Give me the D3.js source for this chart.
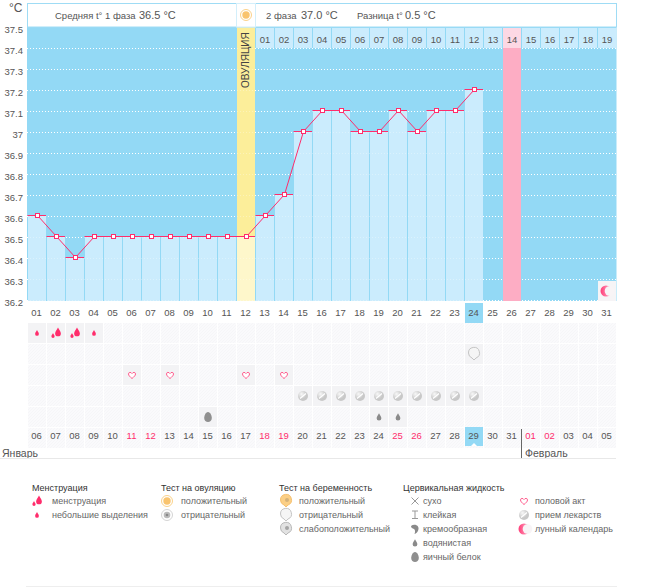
<!DOCTYPE html>
<html>
<head>
<meta charset="utf-8">
<script src="https://cdn.jsdelivr.net/npm/d3@7"></script>
<style>
  html, body { margin: 0; padding: 0; background: #fff; }
  svg { display: block; }
  text { font-family: "Liberation Sans", Arial, sans-serif; font-size: 9px; fill: #555; }
  .axis path, .axis line { display: none; }
  .axis text { font-size: 9.5px; fill: #555; }
  .lg-title { fill: #333; }
</style>
</head>
<body>
<svg id="chart" width="655" height="587"></svg>
<script>
// chart values
const cycleDays = ["01","02","03","04","05","06","07","08","09","10","11","12","13","14","15","16","17","18","19","20","21","22","23","24","25","26","27","28","29","30","31"];
const phaseDays = ["01","02","03","04","05","06","07","08","09","10","11","12","13","14","15","16","17","18","19"];
const calendarDays = ["06","07","08","09","10","11","12","13","14","15","16","17","18","19","20","21","22","23","24","25","26","27","28","29","30","31","01","02","03","04","05"];
const weekendSlots = [5,6,12,13,19,20,26,27];
const temps = [36.6,36.5,36.4,36.5,36.5,36.5,36.5,36.5,36.5,36.5,36.5,36.5,36.6,36.7,37.0,37.1,37.1,37.0,37.0,37.1,37.0,37.1,37.1,37.2];
const tempTicks = [37.5,37.4,37.3,37.2,37.1,37,36.9,36.8,36.7,36.6,36.5,36.4,36.3,36.2];
const ovulationDay = "12";
const pinkDay = "26";
const todayDay = "24";
const moonDay = "31";
const rows = ["mens","test","sex","pill","fluid"];
const menstruation = [["01","small"],["02","big"],["03","big"],["04","small"]];
const pregTests = [["24","pregNeg"]];
const sexDays = ["06","08","12","14"];
const pillDays = ["15","16","17","18","19","20","21","22","23","24"];
const fluidDays = [["10","egg"],["19","water"],["20","water"]];

const svg = d3.select("#chart");
const x = d3.scaleBand().domain(cycleDays).range([27, 616]);
const y = d3.scaleLinear().domain([36.2, 37.5]).range([300, 27]);
const rowY = d3.scaleBand().domain(rows).range([323, 428]);
const cx = d => x(d) + x.bandwidth() / 2 + 0.5;
const yi = t => Math.round(y(t));

const defs = svg.append("defs");
const tex = defs.append("pattern").attr("id", "tex").attr("width", 3).attr("height", 3).attr("patternUnits", "userSpaceOnUse");
tex.append("rect").attr("width", 3).attr("height", 3).attr("fill", "#fafafc");
tex.append("path").attr("d", "M0,3L3,0").attr("stroke", "#f5f5f8").attr("stroke-width", 0.8);
const pg = defs.append("radialGradient").attr("id", "pillG").attr("cx", "35%").attr("cy", "30%");
pg.append("stop").attr("offset", "0%").attr("stop-color", "#f8f8f8");
pg.append("stop").attr("offset", "100%").attr("stop-color", "#c8c8c8");
const mg = defs.append("linearGradient").attr("id", "moonG");
mg.append("stop").attr("offset", "0%").attr("stop-color", "#ff3d78");
mg.append("stop").attr("offset", "100%").attr("stop-color", "#ffb3cb");

// background
svg.append("rect").attr("x", 27).attr("y", 27).attr("width", 589.5).attr("height", 274).attr("fill", "#93d9f5");

// grid
svg.append("g").selectAll("line").data(tempTicks.slice(1)).join("line")
  .attr("x1", 27).attr("x2", 616)
  .attr("y1", d => yi(d) + 0.5).attr("y2", d => yi(d) + 0.5)
  .attr("stroke", "#fff").attr("stroke-dasharray", "1,2");

// ovulation and pink columns
svg.append("rect").attr("x", x(ovulationDay) + 1).attr("y", 27).attr("width", 18).attr("height", yi(36.5) - 27).attr("fill", "#fcee9a");
svg.append("rect").attr("x", x(ovulationDay) + 1).attr("y", yi(36.5)).attr("width", 18).attr("height", 301 - yi(36.5)).attr("fill", "#fef7cb");
svg.append("rect").attr("x", x(pinkDay) + 1).attr("y", 48).attr("width", 18).attr("height", 253).attr("fill", "#fdadc4");

// temperature bars
const bars = cycleDays.slice(0, temps.length).map((d, i) => ({ d, t: temps[i] }));
svg.append("g").selectAll("rect").data(bars.filter(b => b.d !== ovulationDay)).join("rect")
  .attr("x", b => x(b.d) + 1).attr("width", 18)
  .attr("y", b => yi(b.t)).attr("height", b => 301 - yi(b.t))
  .attr("fill", "#cbecfd");
svg.append("g").selectAll("line").data(bars.slice(1).filter(b => b.d !== ovulationDay)).join("line")
  .attr("x1", b => x(b.d) + 0.5).attr("x2", b => x(b.d) + 0.5)
  .attr("y1", b => yi(b.t)).attr("y2", 301)
  .attr("stroke", "#93d9f5");
// faint grid over the bars
svg.append("g").selectAll("line").data(tempTicks.slice(1)).join("line")
  .attr("x1", 27).attr("x2", x(todayDay) + 19)
  .attr("y1", d => yi(d) + 0.5).attr("y2", d => yi(d) + 0.5)
  .attr("stroke", "#fff").attr("stroke-opacity", 0.3).attr("stroke-dasharray", "1,2");

// header
svg.append("rect").attr("x", 27.5).attr("y", 3.5).attr("width", 589).attr("height", 23.5).attr("fill", "#fff").attr("stroke", "#9fdcf5");
svg.append("rect").attr("x", 236.5).attr("y", 3.5).attr("width", 19).attr("height", 23.5).attr("fill", "#fff").attr("stroke", "#d3effb");
const headText = (tx, str, size) => svg.append("text").attr("x", tx).attr("y", 19).style("font-size", size).text(str);
headText(55, "Средняя t° 1 фаза", "9.5px");
headText(139, "36.5 °C", "11px");
headText(266, "2 фаза", "9.5px");
headText(301, "37.0 °C", "11px");
headText(357, "Разница t°", "9.5px");
headText(405, "0.5 °C", "11px");

// phase day row
const phaseSlots = cycleDays.slice(12);
svg.append("g").selectAll("rect").data(phaseSlots).join("rect")
  .attr("x", d => x(d) + 1).attr("y", 28).attr("width", 18).attr("height", 20)
  .attr("fill", d => d === pinkDay ? "#fdd8e4" : "#cbecfd");
svg.append("g").selectAll("text").data(phaseSlots).join("text")
  .attr("x", cx).attr("y", 43).attr("text-anchor", "middle").style("font-size", "9.5px")
  .text((d, i) => phaseDays[i]);

svg.append("text").attr("transform", `translate(${cx(ovulationDay) + 3},88) rotate(-90)`)
  .style("font-size", "10px").style("fill", "#444").text("ОВУЛЯЦИЯ");

// y axis
svg.append("g").attr("class", "axis").attr("transform", "translate(23,2.5)")
  .call(d3.axisLeft(y).tickValues(tempTicks).tickSize(0).tickPadding(0).tickFormat(d => String(d)));
svg.append("text").attr("x", 9).attr("y", 12).style("font-size", "12px").text("°C");

// highlighted dates
svg.append("rect").attr("x", x(todayDay) + 1).attr("y", 303).attr("width", 18).attr("height", 20).attr("fill", "#93d9f5");

// cycle day axis
svg.append("g").attr("class", "axis").attr("transform", "translate(0,303)")
  .call(d3.axisBottom(x).tickSize(0).tickPadding(6));

// icon rows
const cells = svg.append("g");
rows.concat(["dates"]).forEach((r, ri) => {
  cells.selectAll(null).data(cycleDays).join("rect")
    .attr("x", d => x(d) + 1).attr("y", 323 + ri * 21).attr("width", 18).attr("height", 20)
    .attr("fill", "url(#tex)");
});
const activeCell = (r, d) => svg.append("rect")
  .attr("x", x(d) + 1).attr("y", rowY(r)).attr("width", 18).attr("height", 20).attr("fill", "#f3f3f5");

// icon shapes
const DROP = "M0,-4C0.8,-2 2.5,-0.8 2.5,1.2A2.5,2.5 0 1 1 -2.5,1.2C-2.5,-0.8 -0.8,-2 0,-4Z";
const HEART = "M0,3.5C-2,1.8 -3.5,0.6 -3.5,-1.1C-3.5,-2.9 -1,-3.2 0,-1.4C1,-3.2 3.5,-2.9 3.5,-1.1C3.5,0.6 2,1.8 0,3.5Z";
const PREG = "M-5.5,-1A5.5,5.5 0 1 1 2,4L0,6L-2,4A5.5,5.5 0 0 1 -5.5,-1Z";
const icons = {
  small: g => g.append("path").attr("d", DROP).attr("fill", "#ff2d6c").attr("transform", "scale(.75)"),
  big: g => {
    g.append("path").attr("d", DROP).attr("fill", "#ff2d6c").attr("transform", "translate(2,-1) scale(1.15)");
    g.append("path").attr("d", DROP).attr("fill", "#ff2d6c").attr("transform", "translate(-3,2.5) scale(.65)");
  },
  heart: g => g.append("path").attr("d", HEART).attr("fill", "#fff").attr("stroke", "#ff5c8d"),
  pill: g => {
    g.append("circle").attr("r", 5).attr("fill", "url(#pillG)");
    g.append("path").attr("d", "M-3,2.5L3,-2.5").attr("stroke", "#fff").attr("stroke-width", 1.2);
  },
  egg: g => g.append("path").attr("d", "M0,-5C2.5,-5 3.8,-1 3.8,1C3.8,3.5 2,5 0,5C-2,5 -3.8,3.5 -3.8,1C-3.8,-1 -2.5,-5 0,-5Z").attr("fill", "#8f8f8f"),
  water: g => g.append("path").attr("d", DROP).attr("fill", "#8a8a8a").attr("transform", "scale(.95)"),
  cross: g => g.append("path").attr("d", "M-3.5,-3.5L3.5,3.5M3.5,-3.5L-3.5,3.5").attr("stroke", "#999").attr("fill", "none"),
  sticky: g => g.append("path").attr("d", "M-3,-4H3M0,-4V3.5M-3,3.5H3").attr("stroke", "#999").attr("fill", "none"),
  cream: g => g.append("path").attr("d", "M-4,-3C-1,-5.5 4,-4 3.5,0C3.2,3 1,4.5 -0.5,5C0.5,2.5 0,0.5 -1,0C-2.5,-0.5 -4,-1 -4,-3Z").attr("fill", "#8a8a8a"),
  moon: g => {
    g.append("circle").attr("r", 5.5).attr("fill", "url(#moonG)");
    g.append("circle").attr("cx", 3.5).attr("r", 4.8).attr("fill", "#f8f4f6");
  },
  ovuPos: g => {
    g.append("circle").attr("r", 5.5).attr("fill", "#fff").attr("stroke", "#fbd28a");
    g.append("circle").attr("r", 3.7).attr("fill", "#f9c46e");
  },
  ovuNeg: g => {
    g.append("circle").attr("r", 5.5).attr("fill", "#fff").attr("stroke", "#d5d5d5");
    g.append("circle").attr("r", 3.3).attr("fill", "#bbb");
    g.append("circle").attr("r", 1.3).attr("fill", "#888");
  },
  pregPos: g => {
    g.append("path").attr("d", PREG).attr("fill", "#fbcf85").attr("stroke", "#f5c070");
    g.append("circle").attr("cx", 1).attr("cy", -1).attr("r", 2).attr("fill", "#d4b27a");
  },
  pregNeg: g => g.append("path").attr("d", PREG).attr("fill", "#f5f5f5").attr("stroke", "#c4c4c4"),
  pregWeak: g => {
    g.append("path").attr("d", PREG).attr("fill", "#e2e2e2").attr("stroke", "#b8b8b8");
    g.append("circle").attr("cx", 1).attr("cy", -1).attr("r", 2).attr("fill", "#a5a5a5");
  }
};
const putIcon = (name, ix, iy) => icons[name](svg.append("g").attr("transform", `translate(${ix},${iy})`));
const rowMid = r => rowY(r) + 10;

menstruation.forEach(([d, k]) => { activeCell("mens", d); putIcon(k, cx(d), rowMid("mens")); });
pregTests.forEach(([d, k]) => { activeCell("test", d); putIcon(k, cx(d), rowMid("test")); });
sexDays.forEach(d => { activeCell("sex", d); putIcon("heart", cx(d), rowMid("sex")); });
pillDays.forEach(d => { activeCell("pill", d); putIcon("pill", cx(d), rowMid("pill")); });
fluidDays.forEach(([d, k]) => { activeCell("fluid", d); putIcon(k, cx(d), rowMid("fluid")); });

// moon cell
svg.append("rect").attr("x", x(moonDay) + 1).attr("y", 281).attr("width", 18).attr("height", 20).attr("fill", "#f6f4f6");
putIcon("moon", cx(moonDay) - 1, 291);

// calendar row
svg.append("rect").attr("x", x(todayDay) + 1).attr("y", 427).attr("width", 18).attr("height", 19).attr("fill", "#93d9f5");
svg.append("path").attr("d", d3.line()([[cx(todayDay) - 3, 446], [cx(todayDay), 443], [cx(todayDay) + 3, 446]])).attr("fill", "#fff");
const calX = d3.scaleBand().domain(d3.range(calendarDays.length)).range([27, 616]);
const calAxis = svg.append("g").attr("class", "axis").attr("transform", "translate(0,427)")
  .call(d3.axisBottom(calX).tickSize(0).tickPadding(5).tickFormat(i => calendarDays[i]));
calAxis.selectAll("text").style("fill", i => weekendSlots.includes(i) ? "#ff2d6c" : "#555");

// months
svg.append("text").attr("x", 2).attr("y", 457).style("font-size", "10.5px").text("Январь");
svg.append("text").attr("x", 525).attr("y", 457).style("font-size", "10.5px").text("Февраль");
svg.append("line").attr("x1", 0).attr("x2", 616).attr("y1", 458.5).attr("y2", 458.5).attr("stroke", "#e8e8e8");
svg.append("line").attr("x1", calX(26) + 0.5).attr("x2", calX(26) + 0.5).attr("y1", 429).attr("y2", 458).attr("stroke", "#666");

// legend
const legendTitles = [["Менструация", 32], ["Тест на овуляцию", 161], ["Тест на беременность", 279], ["Цервикальная жидкость", 403]];
const legendItems = [
  [[37, 52, "big", "менструация"], [37, 52, "small", "небольшие выделения"]],
  [[167, 181, "ovuPos", "положительный"], [167, 181, "ovuNeg", "отрицательный"]],
  [[286, 299, "pregPos", "положительный"], [286, 299, "pregNeg", "отрицательный"], [286, 299, "pregWeak", "слабоположительный"]],
  [[415, 423, "cross", "сухо"], [415, 423, "sticky", "клейкая"], [415, 423, "cream", "кремообразная"], [415, 423, "water", "водянистая"], [415, 423, "egg", "яичный белок"]],
  [[524, 535, "heart", "половой акт"], [524, 535, "pill", "прием лекарств"], [524, 535, "moon", "лунный календарь"]]
];
svg.append("g").selectAll("text").data(legendTitles).join("text")
  .attr("class", "lg-title").attr("x", d => d[1]).attr("y", 490.5).text(d => d[0]);
legendItems.forEach(col => col.forEach((it, i) => {
  putIcon(it[2], it[0], 501 + i * 14);
  svg.append("text").attr("x", it[1]).attr("y", 504 + i * 14).style("fill", "#666").text(it[3]);
}));
svg.append("line").attr("x1", 26).attr("x2", 617).attr("y1", 586.5).attr("y2", 586.5).attr("stroke", "#eee");

// temperature line
const lineGen = d3.line().x(b => cx(b.d) + 0.5).y(b => yi(b.t) - 0.5);
svg.append("g").selectAll("line").data(bars).join("line")
  .attr("x1", b => x(b.d) + 0.5).attr("x2", b => x(b.d) + 19)
  .attr("y1", b => yi(b.t) - 0.5).attr("y2", b => yi(b.t) - 0.5)
  .attr("stroke", "#ff2d6c");
svg.append("path").attr("d", lineGen(bars)).attr("fill", "none").attr("stroke", "#ff2d6c");
svg.append("g").selectAll("rect").data(bars).join("rect")
  .attr("x", b => cx(b.d) - 1.5).attr("y", b => yi(b.t) - 2.5).attr("width", 4).attr("height", 4)
  .attr("fill", "#fff").attr("stroke", "#ff2d6c");

// header sun
putIcon("ovuPos", cx(ovulationDay), 15);
</script>
</body>
</html>
